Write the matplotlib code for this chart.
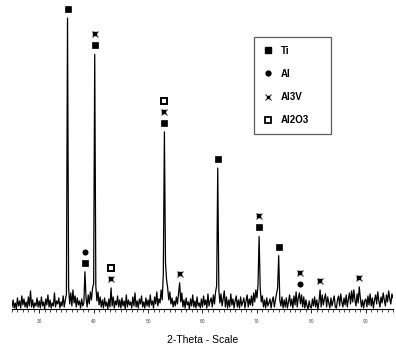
import numpy as np
import matplotlib
matplotlib.use("Agg")
from matplotlib import pyplot as plt
from matplotlib.lines import Line2D
from matplotlib.legend_handler import HandlerTuple
from matplotlib.ticker import MultipleLocator

# 2-theta scan, 25 to 95 deg in 0.2 deg steps
two_theta_start = 25.0
two_theta_step = 0.2
intensity = [
    # 25.0 - 29.8
    5, 12, 4, 9, 3, 14, 6, 11, 4, 16, 7, 13, 5, 10, 4, 15, 6, 21, 5, 12, 4, 9, 6, 14, 5,
    # 30.0 - 34.8
    11, 4, 15, 6, 10, 3, 13, 7, 17, 5, 12, 4, 9, 6, 19, 5, 11, 8, 14, 4, 10, 6, 16, 5, 12,
    # 35.0 - 39.8
    18, 292, 24, 8, 19, 6, 22, 9, 16, 5, 14, 7, 11, 4, 13, 6, 9, 40, 14, 5, 17, 8, 20, 12, 24,
    # 40.0 - 44.8
    28, 256, 26, 11, 20, 7, 15, 5, 12, 4, 14, 6, 10, 3, 13, 5, 24, 6, 15, 4, 11, 7, 16, 5, 12,
    # 45.0 - 49.8
    4, 14, 6, 11, 3, 17, 5, 12, 7, 10, 4, 15, 6, 19, 5, 11, 4, 13, 8, 16, 5, 10, 4, 14, 6,
    # 50.0 - 54.8
    12, 5, 17, 7, 11, 4, 15, 8, 20, 6, 13, 9, 22, 12, 38, 179, 49, 32, 24, 12, 20, 8, 14, 5, 11,
    # 55.0 - 59.8
    6, 15, 8, 18, 29, 10, 19, 5, 12, 4, 14, 7, 10, 3, 13, 6, 17, 5, 11, 4, 15, 6, 9, 4, 13,
    # 60.0 - 64.8
    5, 16, 7, 12, 4, 18, 6, 11, 14, 5, 17, 8, 20, 26, 143, 22, 9, 18, 6, 13, 21, 5, 15, 4, 12,
    # 65.0 - 69.8
    5, 18, 7, 13, 4, 11, 16, 5, 12, 4, 15, 6, 10, 14, 4, 11, 17, 5, 13, 7, 16, 6, 19, 10, 22,
    # 70.0 - 74.8
    14, 27, 75, 24, 10, 16, 5, 12, 4, 14, 6, 9, 13, 4, 11, 15, 5, 12, 18, 24, 56, 12, 6, 15, 4,
    # 75.0 - 79.8
    12, 5, 14, 4, 10, 17, 6, 13, 4, 16, 7, 20, 5, 14, 19, 8, 17, 5, 15, 4, 12, 6, 3, 11, 5,
    # 80.0 - 84.8
    4, 13, 6, 15, 5, 12, 3, 10, 22, 5, 17, 7, 13, 18, 5, 15, 9, 4, 14, 6, 11, 16, 5, 4, 12,
    # 85.0 - 89.8
    16, 6, 18, 10, 5, 14, 7, 17, 5, 13, 19, 8, 21, 10, 22, 12, 6, 18, 9, 25, 14, 5, 12, 4, 11,
    # 90.0 - 94.8
    13, 5, 16, 7, 18, 6, 14, 4, 12, 17, 8, 20, 11, 5, 15, 9, 19, 12, 6, 17, 10, 21, 13, 8, 18,
    # 95.0
    14,
]

# identified reflections: position and phases (stacked from the peak upwards)
peak_positions = [35.2, 38.4, 40.2, 43.2, 53.0, 55.8, 62.8, 70.4, 74.0, 77.9, 81.6, 88.8]
peak_phases = [
    ["Ti"],
    ["Ti", "Al"],
    ["Ti", "Al3V"],
    ["Al3V", "Al2O3"],
    ["Ti", "Al3V", "Al2O3"],
    ["Al3V"],
    ["Ti"],
    ["Ti", "Al3V"],
    ["Ti"],
    ["Al", "Al3V"],
    ["Al3V"],
    ["Al3V"],
]
phase_names = ["Ti", "Al", "Al3V", "Al2O3"]


def draw_marker(ax, phase, x, y):
    if phase == "Ti":
        ax.plot(x, y, "s", ms=4.2, mfc="k", mec="k", mew=0.5)
    elif phase == "Al":
        ax.plot(x, y, "o", ms=3.8, mfc="k", mec="k", mew=0.5)
    elif phase == "Al3V":
        ax.plot(x, y, "x", ms=4.5, mec="#333333", mew=0.8)
        ax.plot(x, y, "s", ms=2.2, mfc="k", mec="k", mew=0.3)
    else:
        ax.plot(x, y, "s", ms=4.2, mfc="white", mec="k", mew=1.4)


def main():
    plt.rcParams["font.family"] = ["Liberation Sans", "DejaVu Sans"]
    y = np.array(intensity, dtype=float)
    x = two_theta_start + two_theta_step * np.arange(len(y))

    fig = plt.figure(figsize=(3.96, 3.46), dpi=100)
    ax = fig.add_axes([12 / 396, 37 / 346, 381 / 396, 304 / 346])
    ax.plot(x, y, color="k", linewidth=0.9)

    # phase markers stacked above each reflection
    for pos, phases in zip(peak_positions, peak_phases):
        top = y[np.abs(x - pos) <= 0.21].max()
        for k, ph in enumerate(phases):
            draw_marker(ax, ph, pos, top + 9 + 11 * k)

    ax.set_xlim(25, 95)
    ax.set_ylim(3, 305)
    for s in ["left", "right", "top"]:
        ax.spines[s].set_visible(False)
    ax.spines["bottom"].set_linewidth(0.8)
    ax.set_yticks([])
    ax.xaxis.set_major_locator(MultipleLocator(10))
    ax.xaxis.set_minor_locator(MultipleLocator(1))
    ax.tick_params(axis="x", which="major", length=3, width=0.6, labelsize=3.5,
                   labelcolor="#444444", pad=4)
    ax.tick_params(axis="x", which="minor", length=2, width=0.5)
    ax.set_xticks(np.arange(30, 91, 10))
    ax.set_xlabel("2-Theta - Scale", fontsize=7.5, labelpad=8)

    # legend
    handles = [
        Line2D([], [], ls="", marker="s", ms=4, mfc="k", mec="k"),
        Line2D([], [], ls="", marker="o", ms=3.5, mfc="k", mec="k"),
        (Line2D([], [], ls="", marker="x", ms=4, mec="#333333", mew=0.8),
         Line2D([], [], ls="", marker="s", ms=1.8, mfc="k", mec="k")),
        Line2D([], [], ls="", marker="s", ms=4, mfc="white", mec="k", mew=1.3),
    ]
    leg = ax.legend(handles, phase_names, loc="upper left", mode="expand",
                    bbox_to_anchor=(254 / 396, 1 - 131 / 346, 77 / 396, 94 / 346),
                    bbox_transform=fig.transFigure,
                    borderaxespad=0, frameon=True, fancybox=False,
                    prop={"weight": "bold", "size": 7}, labelspacing=1.35,
                    handlelength=1.0, handletextpad=0.9, borderpad=0.9,
                    handler_map={tuple: HandlerTuple(ndivide=1, pad=0)})
    leg.get_frame().set_edgecolor("#333333")
    leg.get_frame().set_linewidth(0.9)

    fig.savefig("out.png", dpi=100)


if __name__ == '__main__':
    main()
